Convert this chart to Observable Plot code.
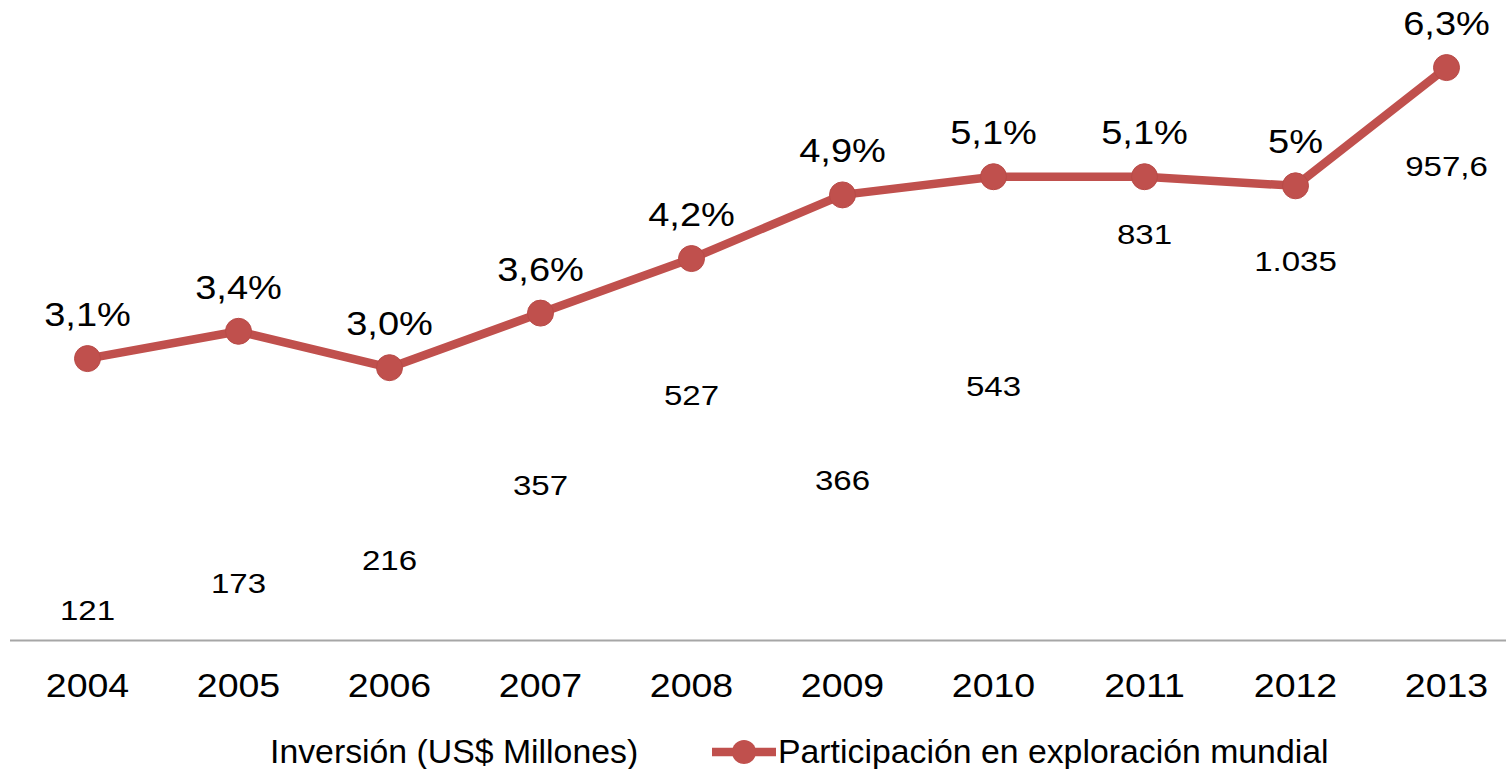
<!DOCTYPE html>
<html>
<head>
<meta charset="utf-8">
<script src="https://cdn.jsdelivr.net/npm/d3@7"></script>
<script src="https://cdn.jsdelivr.net/npm/@observablehq/plot@0.6"></script>
<style>
  body { margin: 0; background: #fff; font-family: "Liberation Sans", Arial, sans-serif; }
  #legend { position: relative; width: 1506px; height: 49px; }
  .lg-text { position: absolute; top: 16px; font-size: 32.5px; line-height: 32.5px; white-space: nowrap;
             transform: scaleX(1.04); transform-origin: left center; color: #000; }
  .lg-mark { position: absolute; }
</style>
</head>
<body>
<div id="chart"></div>
<div id="legend"></div>
<script>
// ---- data ----
const years = ["2004", "2005", "2006", "2007", "2008", "2009", "2010", "2011", "2012", "2013"];
const share = [3.1, 3.4, 3.0, 3.6, 4.2, 4.9, 5.1, 5.1, 5.0, 6.3];
const shareLabels = ["3,1%", "3,4%", "3,0%", "3,6%", "4,2%", "4,9%", "5,1%", "5,1%", "5%", "6,3%"];
const investment = [121, 173, 216, 357, 527, 366, 543, 831, 1035, 957.6];
const investmentLabels = ["121", "173", "216", "357", "527", "366", "543", "831", "1.035", "957,6"];
const seriesNames = ["Inversión (US$ Millones)", "Participación en exploración mundial"];

const lineColor = "#C0504D";
const invAxisMax = 1200;   // secondary (hidden bar) axis maximum
const shareAxisMax = 7;    // primary axis maximum (%)
const invToShare = v => v * shareAxisMax / invAxisMax;

const data = years.map((year, i) => ({
  year, share: share[i], shareLabel: shareLabels[i],
  inv: investment[i], invLabel: investmentLabels[i]
}));

const plot = Plot.plot({
  width: 1506,
  height: 720,
  marginTop: 0,
  marginLeft: 10,
  marginRight: 0,
  marginBottom: 80,
  x: { type: "point", domain: years, range: [86, 1446], padding: 0 },
  y: { domain: [0, shareAxisMax], range: [640, 640 - shareAxisMax * 90.94], axis: null },
  style: { fontFamily: "Liberation Sans, Arial, sans-serif", color: "#000", background: "#fff" },
  marks: [
    Plot.ruleY([0], { stroke: "#A6A6A6", strokeWidth: 2 }),
    Plot.axisX({ tickSize: 0, tickPadding: 33, fontSize: 33.5, fill: "#000", label: null }),
    // investment labels (hidden bars, labels at inside end)
    Plot.text(data.filter(d => d.year !== "2012"), {
      x: "year", y: d => invToShare(d.inv), text: "invLabel", dy: 35, fontSize: 28, fill: "#000"
    }),
    // 2012 label was moved down in the original
    Plot.text(data.filter(d => d.year === "2012"), {
      x: "year", y: d => invToShare(d.inv), text: "invLabel", dy: 171, fontSize: 28, fill: "#000"
    }),
    Plot.line(data, { x: "year", y: "share", stroke: lineColor, strokeWidth: 8.5, strokeLinejoin: "round" }),
    Plot.dot(data, { x: "year", y: "share", r: 13, fill: lineColor, stroke: "#B84A47", strokeWidth: 1 }),
    Plot.text(data, { x: "year", y: "share", text: "shareLabel", dy: -43, fontSize: 32.5, fill: "#000" })
  ]
});

// stretch texts horizontally like the original
function stretch(size, k) {
  plot.querySelectorAll("text").forEach(t => {
    const g = t.closest("[font-size]");
    if (!g || parseFloat(g.getAttribute("font-size")) !== size) return;
    const tr = t.getAttribute("transform");
    if (tr) {
      t.setAttribute("transform", tr + ` scale(${k},1)`);
    } else {
      const x = +(t.getAttribute("x") || 0);
      t.setAttribute("transform", `translate(${x},0) scale(${k},1) translate(${-x},0)`);
    }
  });
}
stretch(33.5, 1.12);
stretch(28, 1.18);
stretch(32.5, 1.17);

document.getElementById("chart").appendChild(plot);

// legend
const legend = document.getElementById("legend");
const t1 = document.createElement("div");
t1.className = "lg-text"; t1.style.left = "270px"; t1.textContent = seriesNames[0];
legend.appendChild(t1);

const ns = "http://www.w3.org/2000/svg";
const mk = document.createElementNS(ns, "svg");
mk.setAttribute("class", "lg-mark");
mk.setAttribute("width", 66); mk.setAttribute("height", 30);
mk.style.left = "711px"; mk.style.top = "17px";
const ln = document.createElementNS(ns, "line");
ln.setAttribute("x1", 1); ln.setAttribute("x2", 65); ln.setAttribute("y1", 15); ln.setAttribute("y2", 15);
ln.setAttribute("stroke", lineColor); ln.setAttribute("stroke-width", 8.5);
mk.appendChild(ln);
const c = document.createElementNS(ns, "circle");
c.setAttribute("cx", 33); c.setAttribute("cy", 15); c.setAttribute("r", 12); c.setAttribute("fill", lineColor);
mk.appendChild(c);
legend.appendChild(mk);

const t2 = document.createElement("div");
t2.className = "lg-text"; t2.style.left = "778px"; t2.textContent = seriesNames[1];
legend.appendChild(t2);
</script>
</body>
</html>
